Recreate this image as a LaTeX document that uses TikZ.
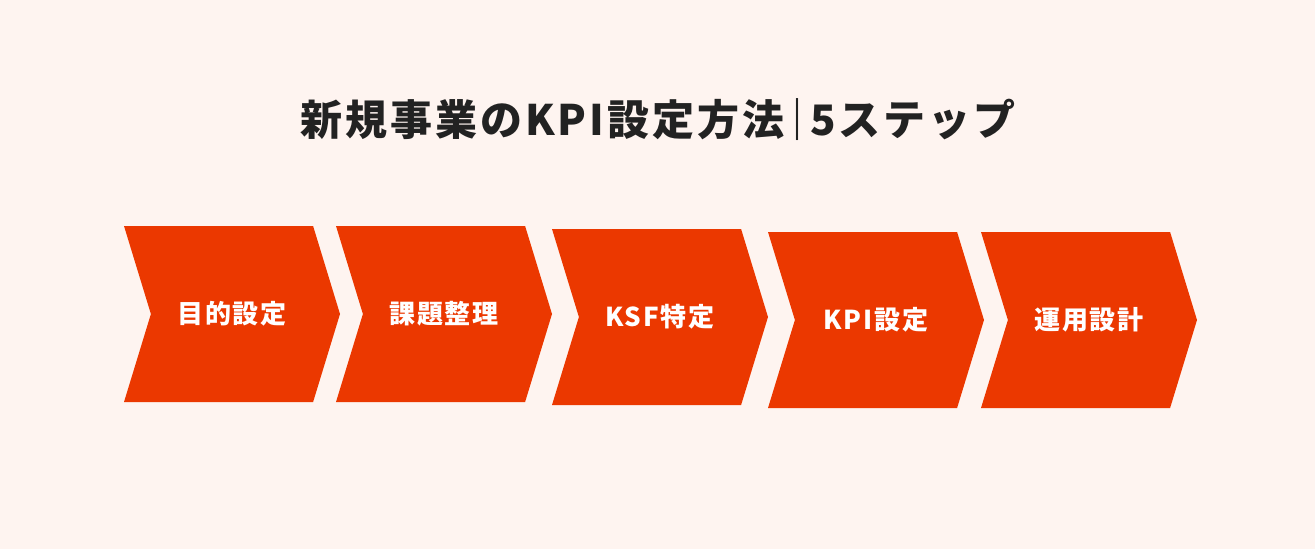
\documentclass[tikz,border=0pt]{standalone}
\usepackage{fontspec}
\setmainfont{Noto Sans CJK JP}
\usetikzlibrary{shapes.symbols}
\definecolor{bgpink}{HTML}{FEF4F0}
\definecolor{steporange}{HTML}{EB3800}
\definecolor{titleink}{HTML}{222222}
\begin{document}
\begin{tikzpicture}
[x=1pt,y=-1pt,
 stepsig/.style={signal,signal from=west,signal to=east,signal pointer angle=146,
   fill=steporange,draw=none,inner sep=0pt,outer sep=0pt,
   minimum width=216pt,minimum height=176pt,text=white,
   font=\fontsize{26}{30}\selectfont\bfseries\addfontfeatures{LetterSpace=7}},
 titletext/.style={text=titleink,inner sep=0pt,
   font=\fontsize{42}{48}\selectfont\bfseries\addfontfeatures{LetterSpace=7}}]

\fill[bgpink] (0,0) rectangle (1315,549);
\useasboundingbox (0,0) rectangle (1315,549);

\node (title) at (658,120) [titletext] {新規事業のKPI設定方法\kern-8pt｜\kern-8pt 5ステップ};

\node (s1) at ( 232,314) [stepsig] {目的設定};
\node (s2) at ( 444,314) [stepsig] {課題整理};
\node (s3) at ( 660,317) [stepsig] {KSF特定};
\node (s4) at ( 876,320) [stepsig] {KPI設定};
\node (s5) at (1089,320) [stepsig] {運用設計};

\end{tikzpicture}
\end{document}
